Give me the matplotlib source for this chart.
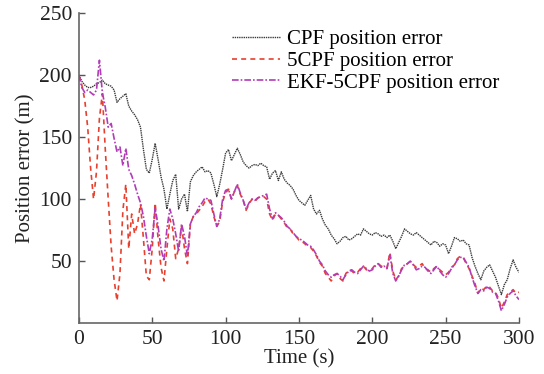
import numpy as np
import matplotlib
matplotlib.use("Agg")
import matplotlib.pyplot as plt

plt.rcParams['font.family'] = ['Liberation Serif', 'DejaVu Serif']

# Time axis (s), 2 s sampling
time_s = np.arange(0, 301, 2)

cpf_err = [
    200, 195, 192, 190, 190, 191, 193, 194, 196, 193,
    192, 191, 188, 178, 181, 183, 185, 175, 171, 168,
    164, 158, 140, 124, 121, 132, 145, 132, 118, 108,
    92, 104, 115, 120, 92, 100, 104, 90, 114, 119,
    122, 124, 126, 122, 123, 121, 112, 102, 112, 124,
    137, 140, 131, 136, 141, 136, 130, 127, 125, 127,
    128, 127, 129, 127, 126, 116, 121, 123, 115, 122,
    116, 113, 111, 108, 103, 99, 97, 95, 99, 103,
    92, 88, 91, 84, 79, 76, 71, 68, 64, 66,
    69, 70, 67, 68, 70, 72, 71, 76, 74, 72,
    71, 73, 72, 70, 71, 69, 71, 66, 60, 65,
    70, 76, 74, 72, 71, 73, 71, 69, 67, 65,
    63, 66, 65, 62, 64, 63, 56, 62, 69, 68,
    66, 67, 64, 63, 53, 46, 40, 35, 42, 45,
    47, 42, 37, 30, 23, 31, 35, 44, 51, 45,
    41,
]

cpf5_err = [
    200, 192, 180, 158, 125, 100, 122, 165, 185, 140,
    100, 62, 35, 18, 40, 91, 112, 60, 88, 72,
    80, 96, 68, 38, 35, 60, 97, 68, 45, 34,
    60, 84, 76, 52, 60, 78, 60, 48, 80, 86,
    88, 91, 94, 98, 100, 96, 86, 78, 82, 98,
    105, 108, 100, 106, 111, 104, 99, 91, 96, 100,
    98, 101, 102, 102, 100, 88, 83, 88, 87, 84,
    81, 77, 76, 72, 70, 67, 66, 64, 62, 61,
    58, 54, 49, 46, 40, 37, 34, 38, 40, 36,
    34, 40, 43, 42, 40, 41, 44, 46, 43, 43,
    44, 47, 48, 46, 45, 44, 57, 42, 35, 38,
    44, 46, 48, 50, 47, 45, 46, 48, 44, 43,
    41, 44, 46, 43, 41, 39, 41, 45, 47, 52,
    54, 53, 48, 44, 38, 32, 24, 28, 27, 30,
    29, 26, 25, 20, 12, 17, 23, 25, 27, 24,
    25,
]

ekf_cpf5_err = [
    200, 190, 186, 188, 186, 184, 188, 212, 186, 174,
    158, 161, 149, 138, 142, 127, 141, 124, 119, 112,
    104, 97, 86, 70, 56, 68, 93, 78, 60, 50,
    76, 92, 84, 72, 58, 80, 70, 54, 80, 86,
    89, 94, 97, 101, 100, 99, 88, 78, 84, 100,
    107, 108, 100, 106, 112, 105, 99, 92, 97, 100,
    99, 101, 102, 103, 104, 92, 84, 89, 87, 85,
    82, 78, 76, 73, 70, 68, 67, 65, 63, 62,
    59, 55, 50, 47, 42, 39, 37, 39, 40, 38,
    35, 39, 42, 43, 41, 40, 43, 46, 44, 42,
    43, 46, 48, 45, 46, 44, 55, 40, 34, 38,
    43, 47, 48, 50, 47, 43, 44, 46, 45, 42,
    40, 43, 46, 42, 39, 37, 40, 44, 47, 51,
    53, 53, 49, 45, 37, 30, 24, 27, 26, 29,
    28, 25, 24, 18, 10, 15, 21, 24, 26, 22,
    19,
]

x_ticks = [0, 50, 100, 150, 200, 250, 300]
y_ticks = [50, 100, 150, 200, 250]

fig = plt.figure(figsize=(5.44, 3.74), dpi=100)
ax = fig.add_axes([0.145, 0.136, 0.809, 0.829])

ax.plot(time_s, cpf_err, color='#3a3a3a', linestyle=(0, (1, 0.6)), lw=1.0,
        label='CPF position error')
ax.plot(time_s, cpf5_err, color='#e8402e', linestyle=(0, (3, 2.5)), lw=1.2,
        label='5CPF position error')
ax.plot(time_s, ekf_cpf5_err, color='#b23cb8', linestyle=(0, (4, 1.2, 1, 1.2)), lw=1.2,
        label='EKF-5CPF position error')

ax.set_xlim(0, 300)
ax.set_ylim(0, 250)
ax.set_xticks(x_ticks)
ax.set_yticks(y_ticks)
ax.tick_params(direction='in', length=4, width=1.0, color='#555555',
               labelsize=15.5, labelcolor='#222222', pad=5)

for side in ('top', 'right'):
    ax.spines[side].set_visible(False)
for side in ('left', 'bottom'):
    ax.spines[side].set_color('#666666')
    ax.spines[side].set_linewidth(1.2)

ax.set_xlabel('Time (s)', fontsize=15, color='#222222', labelpad=0)
ax.set_ylabel('Position error (m)', fontsize=15, color='#222222', labelpad=3)

ax.legend(loc='upper left', bbox_to_anchor=(0.348, 0.946), frameon=False,
          fontsize=15, handlelength=2.3, handletextpad=0.35,
          labelspacing=0.1, borderpad=0, borderaxespad=0)

fig.savefig('out.png', dpi=100)
